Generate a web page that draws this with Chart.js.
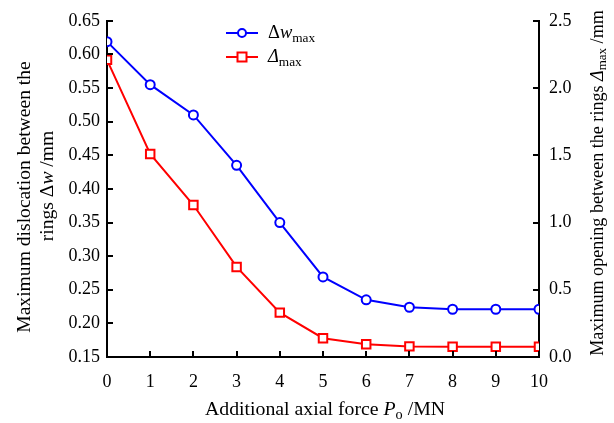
<!DOCTYPE html>
<html>
<head>
<meta charset="utf-8">
<script src="https://cdn.jsdelivr.net/npm/chart.js@4/dist/chart.umd.min.js"></script>
<style>
  html, body { margin: 0; padding: 0; background: #fff; }
  #wrap { width: 614px; height: 423px; }
</style>
</head>
<body>
<div id="wrap"><canvas id="chart"></canvas></div>
<script>
// axial force (MN)
const forces = [0, 1, 2, 3, 4, 5, 6, 7, 8, 9, 10];
// max dislocation between rings, mm (left axis)
const dislocation = [0.619, 0.555, 0.510, 0.435, 0.350, 0.269, 0.235, 0.224, 0.221, 0.221, 0.221];
// max opening between rings, mm (right axis)
const opening = [2.21, 1.51, 1.13, 0.67, 0.33, 0.14, 0.094, 0.079, 0.077, 0.077, 0.077];

const FONT = '"Liberation Serif", "Times New Roman", serif';
const BLUE = '#0000ff';
const RED = '#ff0000';

function toPoints(ys) {
  return forces.map((x, i) => ({ x: x, y: ys[i] }));
}

// draw a run of text pieces (normal / italic / subscript) starting at x
function drawRich(ctx, parts, x, y, size) {
  let cx = x;
  parts.forEach(p => {
    const s = p.sub ? size * 0.72 : size;
    ctx.font = (p.italic ? 'italic ' : '') + s + 'px ' + FONT;
    ctx.fillText(p.t, cx, y + (p.sub ? size * 0.28 : 0));
    cx += ctx.measureText(p.t).width;
  });
  return cx - x;
}

function richWidth(ctx, parts, size) {
  let w = 0;
  parts.forEach(p => {
    const s = p.sub ? size * 0.72 : size;
    ctx.font = (p.italic ? 'italic ' : '') + s + 'px ' + FONT;
    w += ctx.measureText(p.t).width;
  });
  return w;
}

function drawCentered(ctx, parts, cx, cy, size, rot) {
  ctx.save();
  ctx.translate(cx, cy);
  ctx.rotate(rot || 0);
  const w = richWidth(ctx, parts, size);
  drawRich(ctx, parts, -w / 2, 0, size);
  ctx.restore();
}

const extras = {
  id: 'extras',
  afterDraw(chart) {
    const ctx = chart.ctx;
    const xs = chart.scales.x, yl = chart.scales.y, yr = chart.scales.y2;
    const area = chart.chartArea;
    ctx.save();
    ctx.strokeStyle = '#000';
    ctx.lineWidth = 2;
    const tl = 6;
    // inward ticks
    xs.ticks.forEach((t, i) => {
      const px = Math.round(xs.getPixelForTick(i));
      ctx.beginPath(); ctx.moveTo(px, area.bottom); ctx.lineTo(px, area.bottom - tl); ctx.stroke();
    });
    yl.ticks.forEach((t, i) => {
      const py = Math.round(yl.getPixelForTick(i));
      ctx.beginPath(); ctx.moveTo(area.left, py); ctx.lineTo(area.left + tl, py); ctx.stroke();
    });
    yr.ticks.forEach((t, i) => {
      const py = Math.round(yr.getPixelForTick(i));
      ctx.beginPath(); ctx.moveTo(area.right, py); ctx.lineTo(area.right - tl, py); ctx.stroke();
    });

    ctx.fillStyle = '#000';
    ctx.textBaseline = 'middle';
    // axis titles
    drawCentered(ctx, [{ t: 'Additional axial force ' }, { t: 'P', italic: true }, { t: 'o', sub: true }, { t: ' /MN' }],
      (area.left + area.right) / 2 + 2, 410, 19.8, 0);
    drawCentered(ctx, [{ t: 'Maximum dislocation between the' }], 25, 197, 19.6, -Math.PI / 2);
    drawCentered(ctx, [{ t: 'rings \u0394' }, { t: 'w', italic: true }, { t: ' /mm' }], 48, 186, 19.6, -Math.PI / 2);
    drawCentered(ctx, [{ t: 'Maximum opening between the rings ' }, { t: '\u0394', italic: true }, { t: 'max', sub: true }, { t: ' /mm' }],
      598, 183, 18.1, -Math.PI / 2);

    // legend
    const rows = [
      { color: BLUE, shape: 'circle', parts: [{ t: '\u0394' }, { t: 'w', italic: true }, { t: 'max', sub: true }] },
      { color: RED, shape: 'square', parts: [{ t: '\u0394', italic: true }, { t: 'max', sub: true }] }
    ];
    rows.forEach((r, i) => {
      const y = 33 + i * 24;
      ctx.strokeStyle = r.color;
      ctx.lineWidth = 2;
      ctx.beginPath(); ctx.moveTo(226, y); ctx.lineTo(258, y); ctx.stroke();
      ctx.fillStyle = '#fff';
      ctx.beginPath();
      if (r.shape === 'circle') ctx.arc(242, y, 4, 0, Math.PI * 2);
      else ctx.rect(237.5, y - 4.5, 9, 9);
      ctx.fill(); ctx.stroke();
      ctx.fillStyle = '#000';
      drawRich(ctx, r.parts, 268, y, 18.5);
    });
    ctx.restore();
  }
};

const ctx = document.getElementById('chart').getContext('2d');
new Chart(ctx, {
  type: 'line',
  data: {
    datasets: [
      {
        label: 'dw',
        data: toPoints(dislocation),
        yAxisID: 'y',
        borderColor: BLUE,
        borderWidth: 2,
        pointStyle: 'circle',
        pointRadius: 4.5,
        pointBorderWidth: 2,
        pointBackgroundColor: '#fff',
        pointBorderColor: BLUE,
        tension: 0
      },
      {
        label: 'open',
        data: toPoints(opening),
        yAxisID: 'y2',
        borderColor: RED,
        borderWidth: 2,
        pointStyle: 'rect',
        pointRadius: 6,
        pointBorderWidth: 2,
        pointBackgroundColor: '#fff',
        pointBorderColor: RED,
        tension: 0
      }
    ]
  },
  options: {
    responsive: true,
    maintainAspectRatio: false,
    animation: false,
    layout: { padding: { top: 19, left: 0, right: 0, bottom: 0 } },
    plugins: { legend: { display: false }, tooltip: { enabled: false } },
    scales: {
      x: {
        type: 'linear',
        min: 0, max: 10,
        grid: { display: false, drawTicks: false },
        border: { display: true, color: '#000', width: 2 },
        ticks: { stepSize: 1, color: '#000', padding: 14, font: { family: FONT, size: 18 } },
        afterFit(s) { s.height = 66; }
      },
      y: {
        position: 'left',
        min: 0.15, max: 0.65,
        grid: { display: false, drawTicks: false },
        border: { display: true, color: '#000', width: 2 },
        ticks: {
          stepSize: 0.05, color: '#000', padding: 7, font: { family: FONT, size: 18 },
          callback: v => v.toFixed(2)
        },
        afterFit(s) { s.width = 107; }
      },
      y2: {
        position: 'right',
        min: 0, max: 2.5,
        grid: { display: false, drawTicks: false },
        border: { display: true, color: '#000', width: 2 },
        ticks: {
          stepSize: 0.5, color: '#000', padding: 10, font: { family: FONT, size: 18 },
          callback: v => v.toFixed(1)
        },
        afterFit(s) { s.width = 75; }
      }
    }
  },
  plugins: [extras]
});
</script>
</body>
</html>
